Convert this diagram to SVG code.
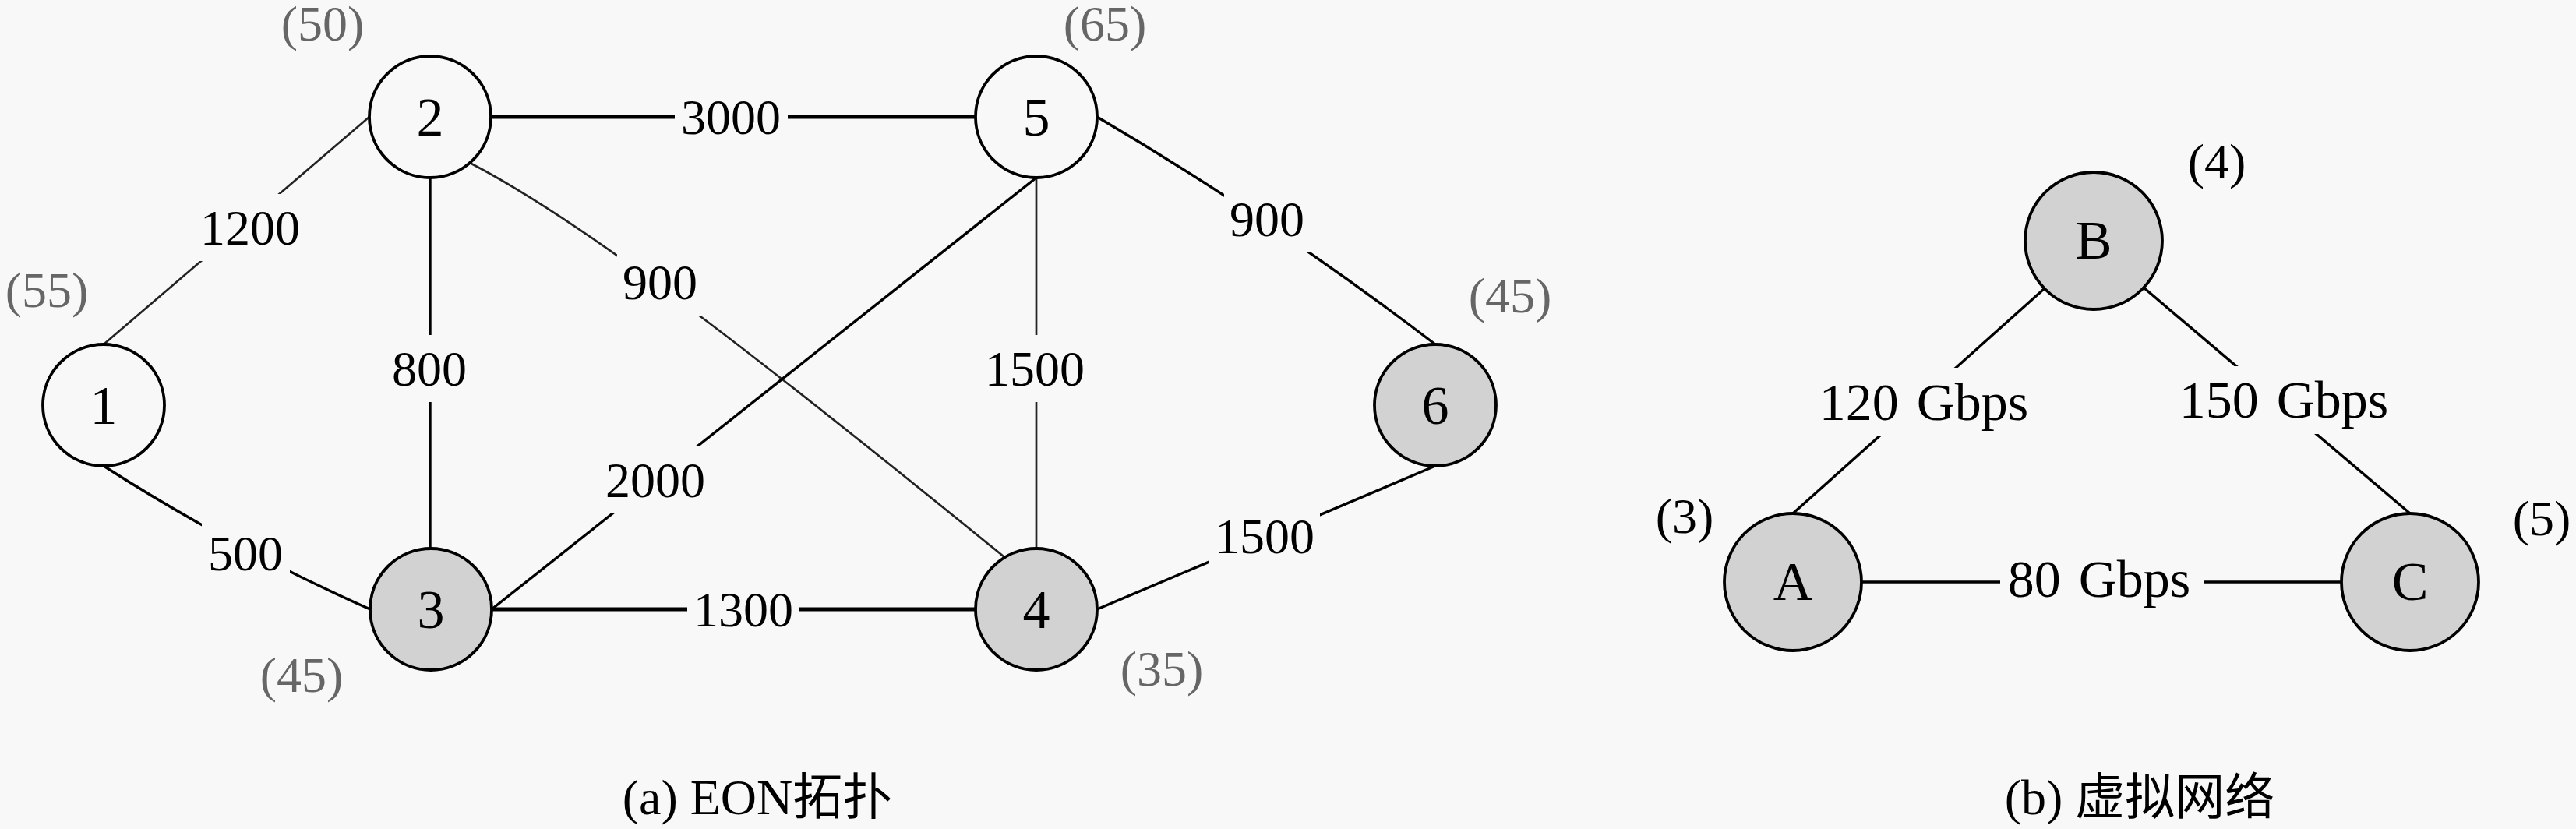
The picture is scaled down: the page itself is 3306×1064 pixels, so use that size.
<svg xmlns="http://www.w3.org/2000/svg" width="3306" height="1064" viewBox="0 0 3306 1064">
<style>
.bg{fill:#f8f8f8}
.n circle{stroke:#000;stroke-width:3.8}
.w{fill:#f8f8f8}
.g{fill:#d2d2d2}
.nt{font-family:"Liberation Serif",serif;font-size:70px;text-anchor:middle;fill:#000}
.e{stroke:#000;stroke-width:3.4;fill:none}
.tk{stroke-width:5}
.tn{stroke:#222;stroke-width:2.7}
.lb{fill:#f8f8f8}
.lt{font-family:"Liberation Serif",serif;font-size:64px;text-anchor:middle;fill:#000}
.lg{font-size:68px;word-spacing:6px}
.wt{font-family:"Liberation Serif",serif;font-size:64px;text-anchor:middle;fill:#666}
.wb{fill:#000}
.cap{font-family:"Liberation Serif","Noto Sans CJK SC",serif;font-size:64px;text-anchor:middle;fill:#000}
</style>
<rect class="bg" x="0" y="0" width="3306" height="1064"/>
<g id="connectors">
  <line class="e tn" x1="133" y1="442" x2="474" y2="150"/>
  <path class="e" d="M133,598 Q297,703 475,782"/>
  <line class="e tk" x1="630" y1="150" x2="1252" y2="150"/>
  <line class="e" x1="552" y1="228" x2="552" y2="704"/>
  <path class="e tn" d="M603,209 C760,290 1000,480 1289,715"/>
  <line class="e" x1="631" y1="782" x2="1330" y2="228"/>
  <line class="e tk" x1="631" y1="782" x2="1252" y2="782"/>
  <line class="e tn" x1="1330" y1="228" x2="1330" y2="704"/>
  <path class="e" d="M1408,150 Q1634,283 1842,442"/>
  <line class="e" x1="1408" y1="782" x2="1842" y2="598"/>
  <line class="e" x1="2301" y1="659" x2="2623" y2="371"/>
  <line class="e" x1="2751" y1="369" x2="3093" y2="659"/>
  <line class="e" x1="2389" y1="747" x2="3005" y2="747"/>
  <g id="edge-labels">
    <rect class="lb" x="866" y="107" width="145" height="86"/><text class="lt" x="938" y="172">3000</text>
    <rect class="lb" x="250" y="249" width="143" height="86"/><text class="lt" x="321" y="314">1200</text>
    <rect class="lb" x="496" y="430" width="110" height="86"/><text class="lt" x="551" y="495">800</text>
    <rect class="lb" x="792" y="319" width="111" height="86"/><text class="lt" x="847" y="384">900</text>
    <rect class="lb" x="259" y="667" width="113" height="86"/><text class="lt" x="315" y="732">500</text>
    <rect class="lb" x="770" y="573" width="143" height="86"/><text class="lt" x="841" y="638">2000</text>
    <rect class="lb" x="882" y="739" width="144" height="86"/><text class="lt" x="954" y="804">1300</text>
    <rect class="lb" x="1257" y="430" width="143" height="86"/><text class="lt" x="1328" y="495">1500</text>
    <rect class="lb" x="1552" y="645" width="142" height="86"/><text class="lt" x="1623" y="710">1500</text>
    <rect class="lb" x="1571" y="238" width="111" height="86"/><text class="lt" x="1626" y="303">900</text>
    <rect class="lb" x="2326" y="472" width="286" height="87"/><text class="lt lg" x="2469" y="539">120 Gbps</text>
    <rect class="lb" x="2788" y="470" width="287" height="87"/><text class="lt lg" x="2931" y="536">150 Gbps</text>
    <rect class="lb" x="2567" y="701" width="262" height="87"/><text class="lt lg" x="2694" y="766">80 Gbps</text>
  </g>
</g>
<g id="node-1" class="n"><circle class="w" cx="133" cy="520" r="78"/><text class="nt" x="133" y="544">1</text></g>
<g id="node-2" class="n"><circle class="w" cx="552" cy="150" r="78"/><text class="nt" x="552" y="174">2</text></g>
<g id="node-3" class="n"><circle class="g" cx="553" cy="782" r="78"/><text class="nt" x="553" y="806">3</text></g>
<g id="node-4" class="n"><circle class="g" cx="1330" cy="782" r="78"/><text class="nt" x="1330" y="806">4</text></g>
<g id="node-5" class="n"><circle class="w" cx="1330" cy="150" r="78"/><text class="nt" x="1330" y="174">5</text></g>
<g id="node-6" class="n"><circle class="g" cx="1842" cy="520" r="78"/><text class="nt" x="1842" y="544">6</text></g>
<g id="node-A" class="n"><circle class="g" cx="2301" cy="747" r="88"/><text class="nt" x="2301" y="770">A</text></g>
<g id="node-B" class="n"><circle class="g" cx="2687" cy="309" r="88"/><text class="nt" x="2687" y="332">B</text></g>
<g id="node-C" class="n"><circle class="g" cx="3093" cy="747" r="88"/><text class="nt" x="3093" y="770">C</text></g>
<g id="weights">
  <text class="wt" x="414" y="52">(50)</text>
  <text class="wt" x="60" y="394">(55)</text>
  <text class="wt" x="1418" y="52">(65)</text>
  <text class="wt" x="1938" y="401">(45)</text>
  <text class="wt" x="387" y="888">(45)</text>
  <text class="wt" x="1491" y="880">(35)</text>
  <text class="wt wb" x="2845" y="229">(4)</text>
  <text class="wt wb" x="2162" y="684">(3)</text>
  <text class="wt wb" x="3262" y="687">(5)</text>
</g>
<g id="captions">
  <text class="cap" x="972" y="1045">(a) EON拓扑</text>
  <text class="cap" x="2746" y="1045">(b) 虚拟网络</text>
</g>
</svg>
